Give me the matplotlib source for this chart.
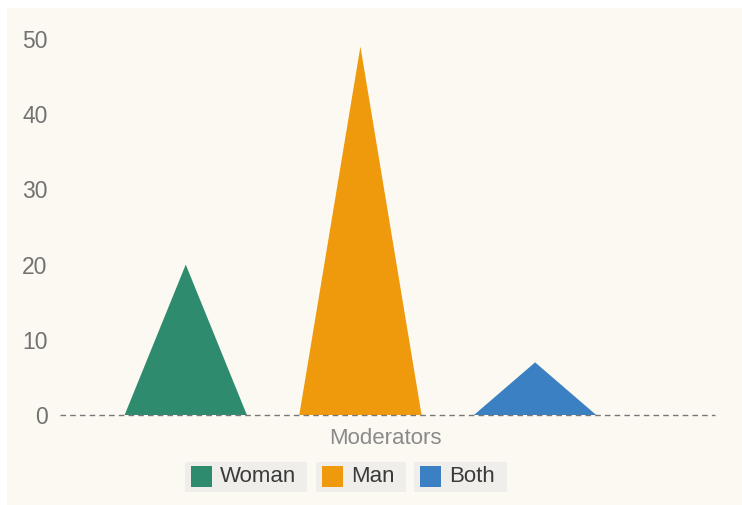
import matplotlib.pyplot as plt
from matplotlib.patches import Polygon, Rectangle

plt.rcParams['font.family'] = ['Liberation Sans', 'DejaVu Sans']

# series for the moderators chart
categories = ['Woman', 'Man', 'Both']
values = [20, 49, 7]
colors = ['#2e8b6e', '#ee9a0c', '#3b80c2']
y_ticks = [0, 10, 20, 30, 40, 50]

W, H = 742, 505
fig = plt.figure(figsize=(W / 100, H / 100), dpi=100, facecolor='white')

# cream background panel
fig.patches.append(Rectangle((7 / W, 0), 1 - 7 / W, 1 - 8 / H,
                             transform=fig.transFigure, facecolor='#fcf9f2',
                             edgecolor='none', zorder=-5))

ax = fig.add_axes([60 / W, (H - 415) / H, 655 / W, (415 - 39) / H])
ax.set_facecolor('none')
ax.set_zorder(2)

half = 0.35  # half the width of each triangle base
for i, (v, c) in enumerate(zip(values, colors)):
    tri = Polygon([(i - half, 0), (i, v), (i + half, 0)], closed=True,
                  facecolor=c, edgecolor='none', zorder=2)
    ax.add_patch(tri)

ax.set_xlim(-0.72, 3.03)
ax.set_ylim(0, 50)
ax.axhline(0, color='#777777', lw=1.0, ls=(0, (4, 3)), zorder=3, clip_on=False)

for s in ax.spines.values():
    s.set_visible(False)
ax.set_xticks([])
ax.set_yticks(y_ticks)
ax.tick_params(axis='y', length=0, pad=9, labelsize=16.5, labelcolor='#727272')

fig.text(385 / W, 1 - 438 / H, 'Moderators', ha='center', va='center',
         fontsize=16, color='#8a8a8a')

# legend drawn as separate boxed entries
box_left = [185, 316, 414]
box_right = [307, 406, 507]
for name, c, x0, x1 in zip(categories, colors, box_left, box_right):
    fig.patches.append(Rectangle((x0 / W, 1 - 492 / H), (x1 - x0) / W, 30 / H,
                                 transform=fig.transFigure, facecolor='#efeeeb',
                                 edgecolor='none', zorder=1))
    fig.patches.append(Rectangle(((x0 + 6) / W, 1 - 487 / H), 21 / W, 21 / H,
                                 transform=fig.transFigure, facecolor=c,
                                 edgecolor='none', zorder=2))
    fig.text((x0 + 35) / W, 1 - 477 / H, name, ha='left', va='center',
             fontsize=16, color='#3a3a3a', zorder=3)

fig.savefig('out.png', dpi=100, facecolor=fig.get_facecolor())
